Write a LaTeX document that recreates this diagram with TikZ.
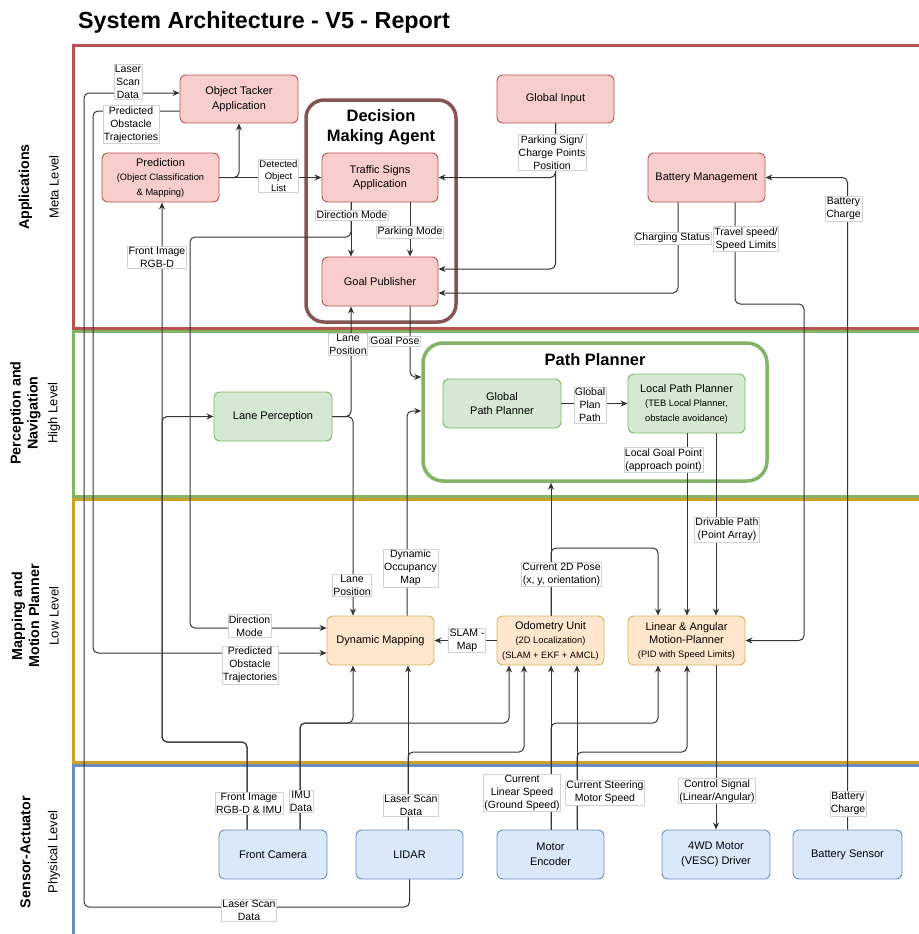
\documentclass[tikz,border=0pt]{standalone}
\usepackage{fontspec}
\setmainfont{Liberation Sans}
\usetikzlibrary{arrows.meta}
\definecolor{pinkF}{HTML}{F8CECC}\definecolor{pinkD}{HTML}{B85450}
\definecolor{greenF}{HTML}{D5E8D4}\definecolor{greenD}{HTML}{82B366}
\definecolor{orangeF}{HTML}{FFE6CC}\definecolor{orangeD}{HTML}{D6B060}
\definecolor{blueF}{HTML}{DAE8FC}\definecolor{blueD}{HTML}{6C8EBF}
\definecolor{laneR}{HTML}{B85450}\definecolor{laneG}{HTML}{82B366}
\definecolor{laneY}{RGB}{201,162,39}\definecolor{laneB}{HTML}{6C8EBF}
\definecolor{dmaD}{RGB}{133,85,85}
\newcommand{\subf}{\fontsize{9.3}{11}\selectfont}
\begin{document}
\begin{tikzpicture}[x=1pt,y=-1pt,
  box/.style={rounded corners=6pt, line width=0.9pt, align=center, inner sep=1pt,
    font=\fontsize{11}{14.5}\selectfont},
  pinkbox/.style={box, fill=pinkF, draw=pinkD},
  greenbox/.style={box, fill=greenF, draw=greenD},
  orangebox/.style={box, fill=orangeF, draw=orangeD},
  bluebox/.style={box, fill=blueF, draw=blueD},
  lanebox/.style={line width=3pt},
  lanet/.style={font=\fontsize{14.3}{17}\selectfont\bfseries, align=center, rotate=90},
  lanes/.style={font=\fontsize{13}{16}\selectfont, rotate=90},
  lbl/.style={fill=white, draw=black!18, line width=0.4pt, inner sep=1pt, align=center,
    font=\fontsize{10.5}{13}\selectfont},
  arr/.style={draw=black!80, line width=1pt, rounded corners=5pt,
    -{Stealth[length=7pt,width=6pt]}},
  ttl/.style={font=\fontsize{16.5}{20}\selectfont\bfseries, align=center}
]
\useasboundingbox (0,0) rectangle (918,934);
% lanes
\draw[lanebox, draw=laneR] (73.5,46) rectangle (940,328);
\draw[lanebox, draw=laneG] (73.5,331.5) rectangle (940,496.5);
\draw[lanebox, draw=laneY] (73.5,499.5) rectangle (940,762.5);
\draw[lanebox, draw=laneB] (73.5,765.5) rectangle (940,960);
% title
\node[anchor=base west, font=\fontsize{23.3}{27}\selectfont\bfseries, inner sep=0] (title) at (78,29) {System Architecture - V5 - Report};
% lane labels
\node[lanet] (la1) at (25.5,187) {Applications};
\node[lanes] (la2) at (54,187) {Meta Level};
\node[lanet] (lb1) at (25.5,413) {Perception and\\Navigation};
\node[lanes] (lb2) at (54,413) {High Level};
\node[lanet] (lc1) at (25.5,616) {Mapping and\\Motion Planner};
\node[lanes] (lc2) at (54,616) {Low Level};
\node[lanet] (ld1) at (25.5,852) {Sensor-Actuator};
\node[lanes] (ld2) at (54,852) {Physical Level};
% containers
\node[draw=dmaD, line width=3.5pt, rounded corners=18pt, fill=white, minimum width=150pt, minimum height=222pt] (dma) at (381,211) {};
\node[ttl] (dmat) at (381,127) {Decision\\Making Agent};
\node[draw=greenD, line width=3.5pt, rounded corners=20pt, fill=white, minimum width=344pt, minimum height=138pt] (ppc) at (595,412) {};
\node[ttl] (ppct) at (595,360) {Path Planner};
% nodes
\node[pinkbox, minimum width=118pt, minimum height=48pt] (ot) at (239,99) {Object Tacker\\Application};
\node[pinkbox, minimum width=117pt, minimum height=49pt] (pred) at (160.5,177.5) {Prediction\\{\subf (Object Classification}\\{\subf \& Mapping)}};
\node[pinkbox, minimum width=116pt, minimum height=49pt] (ts) at (380,177.5) {Traffic Signs\\Application};
\node[pinkbox, minimum width=116pt, minimum height=49pt] (gp) at (380,281.5) {Goal Publisher};
\node[pinkbox, minimum width=117pt, minimum height=48pt] (gi) at (555.5,99) {Global Input};
\node[pinkbox, minimum width=117pt, minimum height=49pt] (bm) at (706.5,177.5) {Battery Management};
\node[greenbox, minimum width=118pt, minimum height=49pt] (lp) at (273,416.5) {Lane Perception};
\node[greenbox, minimum width=118pt, minimum height=49pt] (gpp) at (502,403.5) {Global\\Path Planner};
\node[greenbox, minimum width=117pt, minimum height=59pt] (lpp) at (686.5,403.5) {Local Path Planner\\{\subf (TEB Local Planner,}\\{\subf obstacle avoidance)}};
\node[orangebox, minimum width=107pt, minimum height=49pt] (dm) at (380.5,640.5) {Dynamic Mapping};
\node[orangebox, minimum width=107pt, minimum height=49pt] (odo) at (550.5,640.5) {Odometry Unit\\{\subf (2D Localization)}\\{\subf (SLAM + EKF + AMCL)}};
\node[orangebox, minimum width=117pt, minimum height=49pt, font=\fontsize{11}{13.5}\selectfont] (mp) at (686.5,640.5) {Linear \& Angular\\Motion-Planner\\{\subf (PID with Speed Limits)}};
\node[bluebox, minimum width=108pt, minimum height=49pt] (fc) at (273,854.5) {Front Camera};
\node[bluebox, minimum width=107pt, minimum height=49pt] (lidar) at (409.5,854.5) {LIDAR};
\node[bluebox, minimum width=107pt, minimum height=49pt] (me) at (550.5,854.5) {Motor\\Encoder};
\node[bluebox, minimum width=108pt, minimum height=49pt] (wd) at (716,854.5) {4WD Motor\\(VESC) Driver};
\node[bluebox, minimum width=109pt, minimum height=49pt] (bs) at (847.5,854.5) {Battery Sensor};
% edges
\draw[arr] (lidar.south) |- (84,907) |- (ot.west |- 0,93);
\draw[arr] (ot.west |- 0,111) -| (93,653) -- (dm.west |- 0,653);
\draw[arr] (pred.east) -- (ts.west);
\draw[arr] (pred.east) -| (ot.south);
\draw[arr] (fc.north -| 247,0) |- (162,742) -- (pred.south -| 162,0);
\draw[arr] (fc.north -| 247,0) |- (162,742) |- (lp.west);
\draw[arr] (fc.north -| 300,0) |- (353,723) -- (dm.south -| 353,0);
\draw[arr] (fc.north -| 300,0) |- (509,723) -- (odo.south -| 509,0);
\draw[arr] (lidar.north -| 408,0) -- (dm.south -| 408,0);
\draw[arr] (lidar.north -| 408,0) |- (524,752) -- (odo.south -| 524,0);
\draw[arr] (me.north -| 551,0) -- (odo.south -| 551,0);
\draw[arr] (me.north -| 551,0) |- (658,723) -- (mp.south -| 658,0);
\draw[arr] (me.north -| 577,0) -- (odo.south -| 577,0);
\draw[arr] (me.north -| 577,0) |- (687,752) -- (mp.south -| 687,0);
\draw[arr] (mp.south -| 716,0) -- (wd.north);
\draw[arr] (bs.north) |- (bm.east);
\draw[arr] (bm.south -| 678,0) |- (gp.east |- 0,293);
\draw[arr] (bm.south -| 735,0) |- (804,304) |- (mp.east);
\draw[arr] (gi.south) |- (ts.east);
\draw[arr] (gi.south) |- (gp.east |- 0,269);
\draw[arr] (ts.south -| 351,0) -- (gp.north -| 351,0);
\draw[arr] (ts.south -| 351,0) |- (190,237) |- (dm.west |- 0,628);
\draw[arr] (ts.south -| 410,0) -- (gp.north -| 410,0);
\draw[arr] (lp.east) -| (gp.south -| 351,0);
\draw[arr] (lp.east) -| (dm.north -| 353,0);
\draw[arr] (gp.south -| 410,0) |- (ppc.west |- 0,377);
\draw[arr] (dm.north -| 407,0) |- (ppc.west |- 0,411);
\draw[arr] (gpp.east) -- (lpp.west);
\draw[arr] (lpp.south -| 687,0) -- (mp.north -| 687,0);
\draw[arr] (lpp.south -| 716,0) -- (mp.north -| 716,0);
\draw[arr] (odo.north -| 551,0) -- (ppc.south -| 551,0);
\draw[arr] (odo.north -| 551,0) |- (658,548) -- (mp.north -| 658,0);
\draw[arr] (odo.west) -- (dm.east);
% labels
\node[lbl] (l1) at (128,81.5) {Laser\\Scan\\Data};
\node[lbl] (l2) at (249,910) {Laser Scan\\Data};
\node[lbl] (l3) at (131,124.5) {Predicted\\Obstacle\\Trajectories};
\node[lbl] (l4) at (250,665) {Predicted\\Obstacle\\Trajectories};
\node[lbl, font=\fontsize{9.5}{12}\selectfont] (l5) at (278.5,176) {Detected\\Object\\List};
\node[lbl] (l6) at (157,257) {Front Image\\RGB-D};
\node[lbl] (l7) at (249,803) {Front Image\\RGB-D \& IMU};
\node[lbl] (l8) at (301,801) {IMU\\Data};
\node[lbl] (l9) at (411,805) {Laser Scan\\Data};
\node[lbl] (l10) at (522,792.5) {Current\\Linear Speed\\(Ground Speed)};
\node[lbl] (l11) at (605,792.5) {Current Steering\\Motor Speed};
\node[lbl] (l12) at (717,791) {Control Signal\\(Linear/Angular)};
\node[lbl] (l13) at (848,803.5) {Battery\\Charge};
\node[lbl] (l14) at (843.5,208.5) {Battery\\Charge};
\node[lbl] (l15) at (672.5,238) {Charging Status};
\node[lbl] (l16) at (746,239) {Travel speed/\\Speed Limits};
\node[lbl] (l17) at (552,152.5) {Parking Sign/\\Charge Points\\Position};
\node[lbl] (l18) at (352,215) {Direction Mode};
\node[lbl] (l19) at (249.5,626) {Direction\\Mode};
\node[lbl] (l20) at (410,232) {Parking Mode};
\node[lbl] (l21) at (348,344) {Lane\\Position};
\node[lbl] (l22) at (352,585.5) {Lane\\Position};
\node[lbl] (l23) at (395,341) {Goal Pose};
\node[lbl] (l24) at (410.5,568) {Dynamic\\Occupancy\\Map};
\node[lbl] (l25) at (590,405) {Global\\Plan\\Path};
\node[lbl] (l26) at (663.5,460) {Local Goal Point\\(approach point)};
\node[lbl] (l27) at (727,529.5) {Drivable Path\\(Point Array)};
\node[lbl] (l28) at (561.5,574) {Current 2D Pose\\(x, y, orientation)};
\node[lbl] (l29) at (467,640) {SLAM -\\Map};
\end{tikzpicture}
\end{document}
